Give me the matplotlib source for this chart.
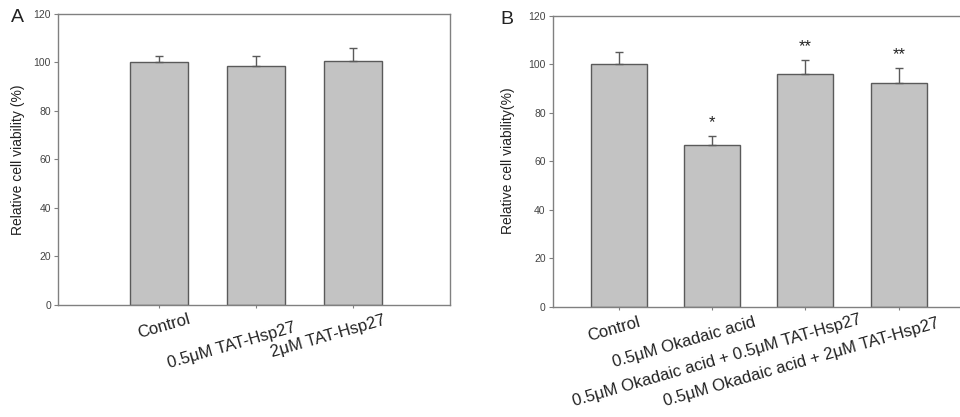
#! /usr/bin/env python
"""Relative cell viability bar charts, panels A and B."""

import matplotlib
matplotlib.use("Agg")
import matplotlib.pyplot as plt
import matplotlib.transforms as mtransforms

# Panel A data
labels_a = ["Control", "0.5\u03bcM TAT-Hsp27", "2\u03bcM TAT-Hsp27"]
values_a = [100.0, 98.7, 100.5]
errors_a = [2.5, 3.8, 5.5]

# Panel B data
labels_b = [
    "Control",
    "0.5\u03bcM Okadaic acid",
    "0.5\u03bcM Okadaic acid + 0.5\u03bcM TAT-Hsp27",
    "0.5\u03bcM Okadaic acid + 2\u03bcM TAT-Hsp27",
]
values_b = [100.0, 66.7, 96.0, 92.4]
errors_b = [5.0, 3.8, 5.6, 6.2]
stars_b = ["", "*", "**", "**"]

yticks = [0, 20, 40, 60, 80, 100, 120]

plt.rcParams["font.family"] = ["Liberation Sans", "DejaVu Sans"]

BAR_COLOR = "#c3c3c3"
EDGE_COLOR = "#5a5a5a"
SPINE_COLOR = "#808080"


def draw_panel(fig, ax, labels, values, errors, ylabel, xlim, label_offsets):
    x = list(range(len(values)))
    ax.bar(x, values, width=0.6, color=BAR_COLOR, edgecolor=EDGE_COLOR,
           linewidth=1.0, zorder=2)
    ax.errorbar(x, values, yerr=[[0] * len(errors), errors], fmt="none",
                ecolor=EDGE_COLOR, elinewidth=1.0, capsize=3, capthick=1.0,
                zorder=3)
    ax.set_xlim(*xlim)
    ax.set_ylim(0, 120)
    ax.set_yticks(yticks)
    ax.tick_params(axis="y", direction="out", length=3, width=0.8,
                   colors=SPINE_COLOR, labelcolor="#444444", labelsize=7.5,
                   pad=2)
    ax.tick_params(axis="x", direction="out", length=2.5, width=0.8,
                   colors=SPINE_COLOR, labelcolor="#222222", labelsize=12,
                   pad=0)
    ax.set_xticks(x)
    ax.set_xticklabels(labels, rotation=16, ha="right", va="top",
                       rotation_mode="anchor")
    for lab, (dx, dy) in zip(ax.get_xticklabels(), label_offsets):
        shift = mtransforms.ScaledTranslation(dx / 100, -dy / 100,
                                              fig.dpi_scale_trans)
        lab.set_transform(lab.get_transform() + shift)
    for sp in ax.spines.values():
        sp.set_color(SPINE_COLOR)
        sp.set_linewidth(1.0)
    ax.set_ylabel(ylabel, fontsize=10, color="#222222")
    return x


fig = plt.figure(figsize=(9.6, 4.17), dpi=100)

ax_a = fig.add_axes([0.0604, 0.2686, 0.408, 0.698])
draw_panel(fig, ax_a, labels_a, values_a, errors_a,
           "Relative cell viability (%)", (-1.04, 3.0),
           [(29, 3), (37, 12), (30, 4)])
ax_a.yaxis.set_label_coords(-0.084, 0.5)

ax_b = fig.add_axes([0.5757, 0.2645, 0.4295, 0.698])
xb = draw_panel(fig, ax_b, labels_b, values_b, errors_b,
                "Relative cell viability(%)", (-0.71, 3.71),
                [(19, 4), (41, 5), (53, 2), (38, 6)])
ax_b.yaxis.set_label_coords(-0.092, 0.5)

# significance marks above the error bars
for xi, v, e, s in zip(xb, values_b, errors_b, stars_b):
    if s:
        ax_b.text(xi, v + e + 3.6, s, ha="center", va="baseline",
                  fontsize=12, color="#222222")

fig.text(17 / 960, 1 - 18 / 417, "A", fontsize=14, ha="center",
         va="center", color="#222222")
fig.text(507 / 960, 1 - 19 / 417, "B", fontsize=14, ha="center",
         va="center", color="#222222")

fig.savefig("out.png", dpi=100)
